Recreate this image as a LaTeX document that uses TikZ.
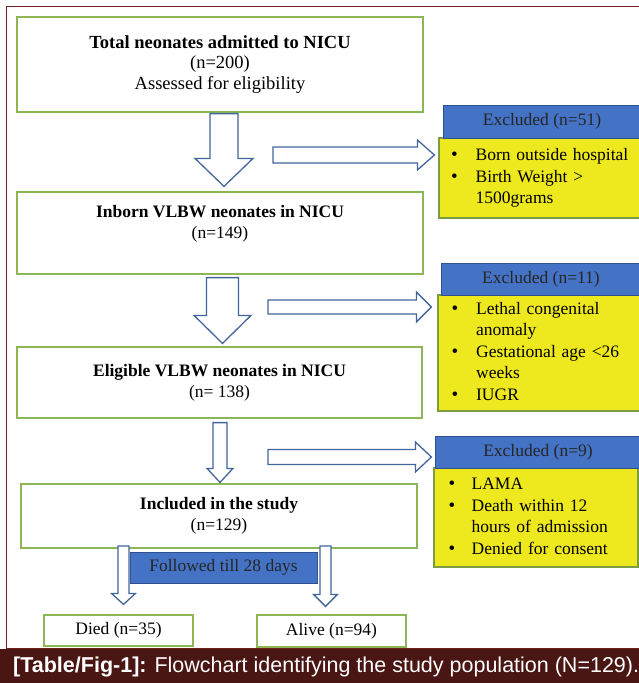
\documentclass[tikz,border=0pt]{standalone}
\usepackage{fontspec}
\setmainfont{Liberation Serif}
\newfontfamily\capfont{Liberation Sans}
\usepackage{tikz}
\usetikzlibrary{calc}

\definecolor{boxgreen}{RGB}{141,182,86}
\definecolor{hdblue}{RGB}{68,114,196}
\definecolor{hdedge}{RGB}{47,82,143}
\definecolor{noteyel}{RGB}{238,232,30}
\definecolor{noteedge}{RGB}{125,155,65}
\definecolor{arrblue}{RGB}{66,101,156}
\definecolor{capred}{RGB}{74,22,20}
\definecolor{framered}{RGB}{115,30,30}

\tikzstyle{Box}=[rectangle, draw=boxgreen, line width=1.2pt, inner sep=0pt, align=center, font=\fontsize{17.5}{21}\selectfont]
\tikzstyle{Head}=[rectangle, draw=hdedge, fill=hdblue, line width=1pt, inner sep=0pt, text=black!85, font=\fontsize{17.5}{21}\selectfont]
\tikzstyle{Note}=[rectangle, draw=noteedge, fill=noteyel, line width=1.2pt, inner ysep=0pt, align=left, font=\fontsize{17.5}{21.5}\selectfont]
\tikzstyle{Fat}=[draw=arrblue, fill=white, line width=1.3pt, line join=miter]

\newcommand{\dotitem}{{\fontsize{19}{21.5}\selectfont\textbullet}}

% hollow block arrows: start, end, half shaft, half head, head length
\newcommand{\fatdown}[5]{\draw[Fat] let \p1=(#1), \p2=(#2) in
  (\x1-#3,\y1) -- (\x1+#3,\y1) -- (\x1+#3,\y2+#5) -- (\x1+#4,\y2+#5) -- (\x1,\y2)
  -- (\x1-#4,\y2+#5) -- (\x1-#3,\y2+#5) -- cycle;}
\newcommand{\fatright}[5]{\draw[Fat] let \p1=(#1), \p2=(#2) in
  (\x1,\y1+#3) -- (\x2-#5,\y1+#3) -- (\x2-#5,\y1+#4) -- (\x2,\y1)
  -- (\x2-#5,\y1-#4) -- (\x2-#5,\y1-#3) -- (\x1,\y1-#3) -- cycle;}

\begin{document}
\begin{tikzpicture}[x=1pt, y=-1pt]
    \useasboundingbox (0,0) rectangle (639,683);
    \draw[framered, line width=1.4pt] (6.5,6.5) rectangle (650,649);
    \fill[capred] (0,649) rectangle (639,683);

    \path
    (220,64.5) node[Box, minimum width=406, minimum height=95, font=\fontsize{18.5}{20.5}\selectfont] (total) {\textbf{Total neonates admitted to NICU}\\(n=200)\\Assessed for eligibility}
    (220,233) node[Box, minimum width=406, minimum height=82] (inborn) {}
    (219.5,382.5) node[Box, minimum width=405, minimum height=71] (eligible) {\textbf{Eligible VLBW neonates in NICU}\\(n= 138)}
    (219,516) node[Box, minimum width=396, minimum height=64] (included) {\textbf{Included in the study}\\(n=129)}
    (118.5,630.5) node[Box, minimum width=149, minimum height=31] (died) {Died (n=35)}
    (331.5,631) node[Box, minimum width=149, minimum height=32] (alive) {Alive (n=94)};
    \path (220,223.5) node[align=center, inner sep=0pt, font=\fontsize{17.5}{21}\selectfont] (inbornlbl) {\textbf{Inborn VLBW neonates in NICU}\\(n=149)};

    \path
    (540,178) node[Note, minimum width=202, minimum height=80, text width=178, inner xsep=11.5] (why1)
        {\begin{tabular}{@{}l@{\hspace{18pt}}l@{}}\dotitem & Born outside hospital\\ \dotitem & Birth Weight >\\ & 1500grams\end{tabular}}
    (539.5,353) node[Note, minimum width=203, minimum height=116, text width=176, inner xsep=13.5] (why2)
        {\begin{tabular}{@{}l@{\hspace{18pt}}l@{}}\dotitem & Lethal congenital\\ & anomaly\\ \dotitem & Gestational age <26\\ & weeks\\ \dotitem & IUGR\end{tabular}}
    (536,517.5) node[Note, minimum width=204, minimum height=99, text width=175, inner xsep=14.5] (why3)
        {\begin{tabular}{@{}l@{\hspace{16.5pt}}l@{}}\dotitem & LAMA\\ \dotitem & Death within 12\\ & hours of admission\\ \dotitem & Denied for consent\end{tabular}};

    \path
    (542,121.5) node[Head, minimum width=198, minimum height=33] (ex1) {Excluded (n=51)}
    (541,279) node[Head, minimum width=200, minimum height=32] (ex2) {Excluded (n=11)}
    (538,452) node[Head, minimum width=206, minimum height=32] (ex3) {Excluded (n=9)}
    (223.5,567.5) node[Head, minimum width=187, minimum height=31] (follow) {Followed till 28 days};

    \fatdown{$(total.south)+(4,1)$}{$(inborn.north)+(4,-5)$}{14}{29}{28}
    \fatdown{$(inborn.south)+(2.5,3)$}{$(eligible.north)+(3,-3)$}{16}{28.5}{28}
    \fatdown{$(eligible.south)+(0.5,4)$}{$(included.north)+(1,-1)$}{7}{13}{14}

    \coordinate (dsplit) at (123.5,546);
    \coordinate (asplit) at (325.5,546);
    \fatdown{dsplit}{$(dsplit |- died.north)+(0,-10)$}{5.5}{12}{11}
    \fatdown{asplit}{$(asplit |- alive.north)+(0,-8)$}{5.5}{12}{12}

    \coordinate (r1) at (273,155);
    \coordinate (r2) at (268,307);
    \coordinate (r3) at (268,457);
    \fatright{r1}{$(why1.west)+(-4,0)$}{8}{15}{17}
    \fatright{r2}{$(why2.west)+(-6,0)$}{7}{15}{15}
    \fatright{r3}{$(why3.west)+(-2,0)$}{7.5}{15}{16}

    \node[anchor=west, text=white, inner sep=0pt, font=\capfont\fontsize{21.5}{24}\selectfont] (cap) at (13,667) {\textbf{[Table/Fig-1]:} Flowchart identifying the study population (N=129).};
\end{tikzpicture}
\end{document}
